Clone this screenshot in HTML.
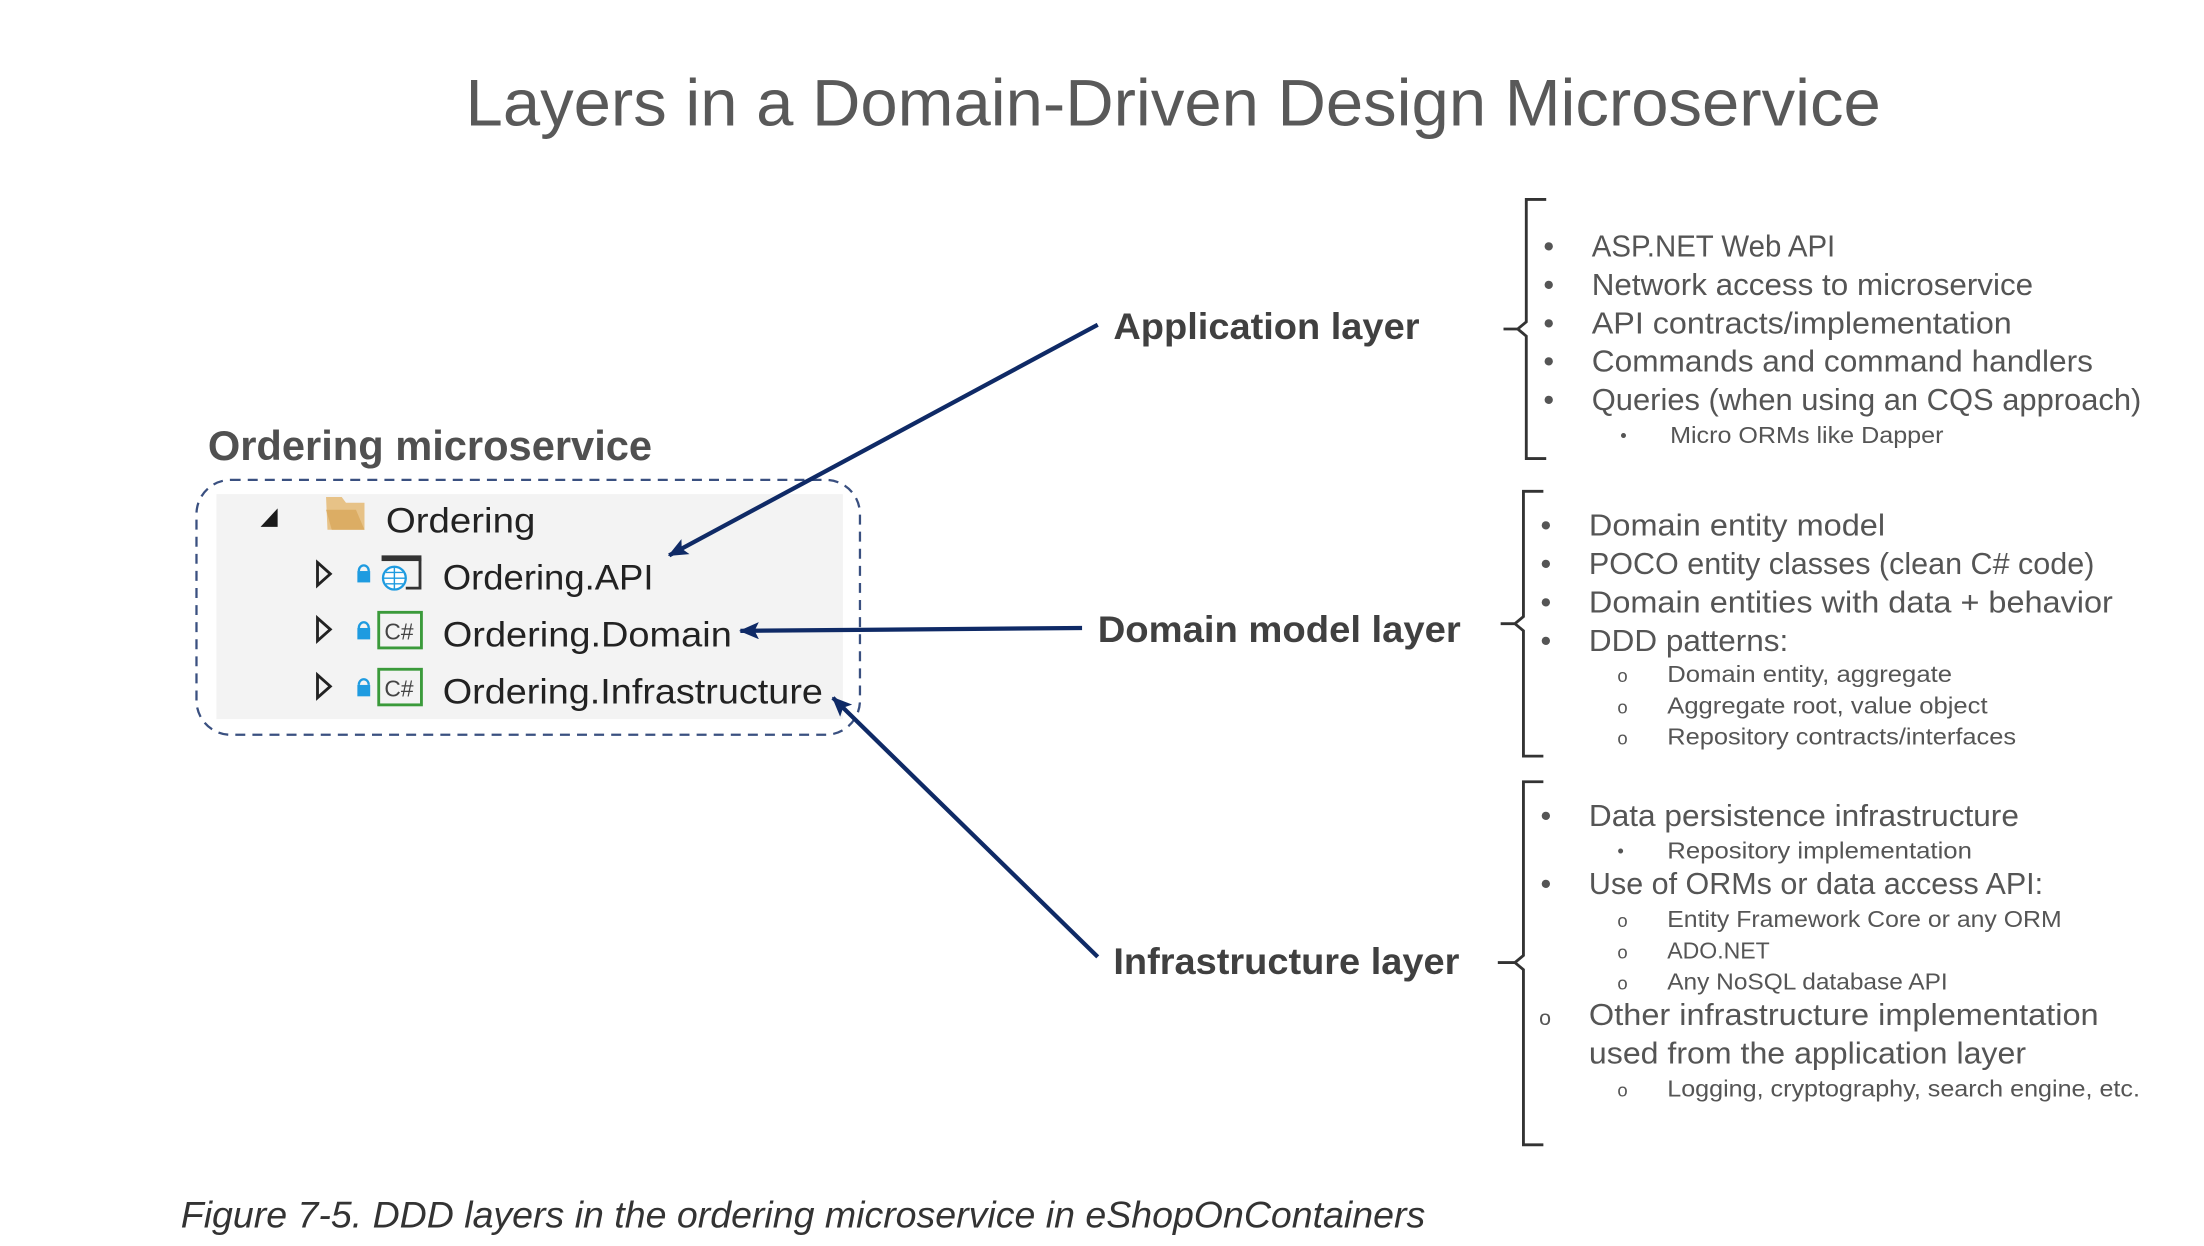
<!DOCTYPE html>
<html><head><meta charset="utf-8"><style>
html,body{margin:0;padding:0;background:#fff;}
svg{display:block;}
text{font-family:"Liberation Sans",sans-serif;}
</style></head><body>
<svg width="2204" height="1246" viewBox="0 0 1548 875" xmlns="http://www.w3.org/2000/svg">
<rect width="1548" height="875" fill="#fff"/>
<defs><marker id="ah" markerWidth="8" markerHeight="8" refX="7" refY="4" orient="auto" markerUnits="userSpaceOnUse"><path d="M0,0 L8,4 L0,8 L2,4 Z" fill="#0f2a66"/></marker>
<marker id="ah2" markerWidth="14" markerHeight="12" refX="13" refY="6" orient="auto" markerUnits="userSpaceOnUse"><path d="M0,0 L14,6 L0,12 L3,6 Z" fill="#0f2a66"/></marker></defs>

<text x="327" y="88" font-size="46" fill="#595959" textLength="994" lengthAdjust="spacingAndGlyphs">Layers in a Domain-Driven Design Microservice</text>

<text x="146" y="323" font-size="29" font-weight="bold" fill="#505050" textLength="312" lengthAdjust="spacingAndGlyphs">Ordering microservice</text>

<rect x="152" y="347" width="440" height="158" fill="#f3f3f3"/>
<rect x="138" y="337" width="466" height="179" rx="24" fill="none" stroke="#3a5080" stroke-width="1.6" stroke-dasharray="7,5"/>

<!-- tree -->
<path d="M183,370 L195,370 L195,357 Z" fill="#1a1a1a"/>
<path d="M229,349 L240,349 L243,353 L256,353 L256,372 L230,372 Z" fill="#e7c287" />
<path d="M229,358 L250,358 L256,372 L233,372 Z" fill="#dcad64"/>
<text x="271" y="374" font-size="25" fill="#222" textLength="105" lengthAdjust="spacingAndGlyphs">Ordering</text>

<g fill="none" stroke="#222" stroke-width="2">
<path d="M223,395 L232,403 L223,411 Z"/>
<path d="M223,434 L232,442 L223,450 Z"/>
<path d="M223,474 L232,482 L223,490 Z"/>
</g>
<g fill="#1e9be0">
<rect x="251" y="401" width="9" height="8"/><path d="M252,401 a3.5,4 0 0 1 7,0" stroke="#1e9be0" stroke-width="1.6" fill="none"/>
<rect x="251" y="441" width="9" height="8"/><path d="M252,441 a3.5,4 0 0 1 7,0" stroke="#1e9be0" stroke-width="1.6" fill="none"/>
<rect x="251" y="481" width="9" height="8"/><path d="M252,481 a3.5,4 0 0 1 7,0" stroke="#1e9be0" stroke-width="1.6" fill="none"/>
</g>
<rect x="268" y="390" width="28" height="4" fill="#333"/>
<path d="M295,392 L295,413 L285,413" stroke="#333" stroke-width="2" fill="none"/>
<circle cx="277" cy="406" r="8" fill="#fff" stroke="#1e9be0" stroke-width="1.6"/>
<path d="M269,406 L285,406 M277,398 L277,414 M271,402 L283,402 M271,410 L283,410" stroke="#1e9be0" stroke-width="1"/>
<rect x="266" y="430" width="30" height="25" fill="#f3f3f3" stroke="#3a9a3a" stroke-width="2"/>
<text x="270" y="449" font-size="16" fill="#444">C#</text>
<rect x="266" y="470" width="30" height="25" fill="#f3f3f3" stroke="#3a9a3a" stroke-width="2"/>
<text x="270" y="489" font-size="16" fill="#444">C#</text>

<text x="311" y="414" font-size="25" fill="#222" textLength="148" lengthAdjust="spacingAndGlyphs">Ordering.API</text>
<text x="311" y="454" font-size="25" fill="#222" textLength="203" lengthAdjust="spacingAndGlyphs">Ordering.Domain</text>
<text x="311" y="494" font-size="25" fill="#222" textLength="267" lengthAdjust="spacingAndGlyphs">Ordering.Infrastructure</text>

<!-- arrows -->
<g stroke="#0f2a66" stroke-width="3" fill="none">
<line x1="771" y1="228" x2="470" y2="390" marker-end="url(#ah2)"/>
<line x1="760" y1="441" x2="520" y2="443" marker-end="url(#ah2)"/>
<line x1="771" y1="672" x2="585" y2="490" marker-end="url(#ah2)"/>
</g>

<g font-weight="bold" font-size="26" fill="#404040">
<text x="782" y="238" textLength="215" lengthAdjust="spacingAndGlyphs">Application layer</text>
<text x="771" y="451" textLength="255" lengthAdjust="spacingAndGlyphs">Domain model layer</text>
<text x="782" y="684" textLength="243" lengthAdjust="spacingAndGlyphs">Infrastructure layer</text>
</g>

<!-- braces -->
<g stroke="#333" stroke-width="2" fill="none">
<path d="M1086,140 L1072,140 L1072,226 L1066,231 L1056,231 M1066,231 L1072,236 L1072,322 L1086,322"/>
<path d="M1084,345 L1070,345 L1070,433 L1064,438 L1054,438 M1064,438 L1070,443 L1070,531 L1084,531"/>
<path d="M1084,549 L1070,549 L1070,671 L1064,676 L1052,676 M1064,676 L1070,681 L1070,804 L1084,804"/>
</g>

<g fill="#555" font-size="21.5">
<text x="1084" y="180">•</text><text x="1118" y="180" textLength="171" lengthAdjust="spacingAndGlyphs">ASP.NET Web API</text>
<text x="1084" y="207">•</text><text x="1118" y="207" textLength="310" lengthAdjust="spacingAndGlyphs">Network access to microservice</text>
<text x="1084" y="234">•</text><text x="1118" y="234" textLength="295" lengthAdjust="spacingAndGlyphs">API contracts/implementation</text>
<text x="1084" y="261">•</text><text x="1118" y="261" textLength="352" lengthAdjust="spacingAndGlyphs">Commands and command handlers</text>
<text x="1084" y="288">•</text><text x="1118" y="288" textLength="386" lengthAdjust="spacingAndGlyphs">Queries (when using an CQS approach)</text>

<text x="1082" y="376">•</text><text x="1116" y="376" textLength="208" lengthAdjust="spacingAndGlyphs">Domain entity model</text>
<text x="1082" y="403">•</text><text x="1116" y="403" textLength="355" lengthAdjust="spacingAndGlyphs">POCO entity classes (clean C# code)</text>
<text x="1082" y="430">•</text><text x="1116" y="430" textLength="368" lengthAdjust="spacingAndGlyphs">Domain entities with data + behavior</text>
<text x="1082" y="457">•</text><text x="1116" y="457" textLength="140" lengthAdjust="spacingAndGlyphs">DDD patterns:</text>

<text x="1082" y="580">•</text><text x="1116" y="580" textLength="302" lengthAdjust="spacingAndGlyphs">Data persistence infrastructure</text>
<text x="1082" y="628">•</text><text x="1116" y="628" textLength="319" lengthAdjust="spacingAndGlyphs">Use of ORMs or data access API:</text>
<text x="1081" y="720" font-size="15">o</text><text x="1116" y="720" textLength="358" lengthAdjust="spacingAndGlyphs">Other infrastructure implementation</text>
<text x="1116" y="747" textLength="307" lengthAdjust="spacingAndGlyphs">used from the application layer</text>
</g>

<g fill="#555" font-size="16.5">
<text x="1138" y="310" font-size="13">•</text><text x="1173" y="311" textLength="192" lengthAdjust="spacingAndGlyphs">Micro ORMs like Dapper</text>
<text x="1136" y="479" font-size="13">o</text><text x="1171" y="479" textLength="200" lengthAdjust="spacingAndGlyphs">Domain entity, aggregate</text>
<text x="1136" y="501" font-size="13">o</text><text x="1171" y="501" textLength="225" lengthAdjust="spacingAndGlyphs">Aggregate root, value object</text>
<text x="1136" y="523" font-size="13">o</text><text x="1171" y="523" textLength="245" lengthAdjust="spacingAndGlyphs">Repository contracts/interfaces</text>
<text x="1136" y="602" font-size="13">•</text><text x="1171" y="603" textLength="214" lengthAdjust="spacingAndGlyphs">Repository implementation</text>
<text x="1136" y="651" font-size="13">o</text><text x="1171" y="651" textLength="277" lengthAdjust="spacingAndGlyphs">Entity Framework Core or any ORM</text>
<text x="1136" y="673" font-size="13">o</text><text x="1171" y="673" textLength="72" lengthAdjust="spacingAndGlyphs">ADO.NET</text>
<text x="1136" y="695" font-size="13">o</text><text x="1171" y="695" textLength="197" lengthAdjust="spacingAndGlyphs">Any NoSQL database API</text>
<text x="1136" y="770" font-size="13">o</text><text x="1171" y="770" textLength="332" lengthAdjust="spacingAndGlyphs">Logging, cryptography, search engine, etc.</text>
</g>

<text x="127" y="862" font-size="26" font-style="italic" fill="#333" textLength="874" lengthAdjust="spacingAndGlyphs">Figure 7-5. DDD layers in the ordering microservice in eShopOnContainers</text>
</svg>
</body></html>
